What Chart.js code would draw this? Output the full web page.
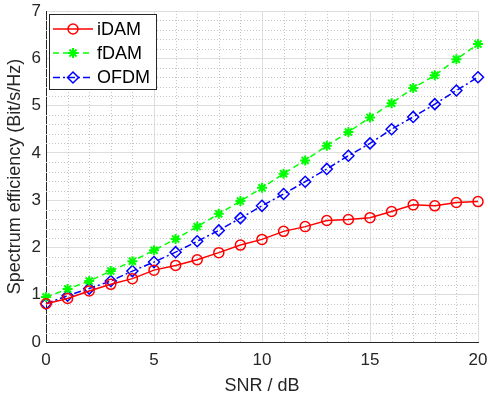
<!DOCTYPE html>
<html>
<head>
<meta charset="utf-8">
<script src="https://cdn.jsdelivr.net/npm/chart.js@4/dist/chart.umd.min.js"></script>
<style>
  html, body { margin: 0; padding: 0; background: #fff; }
  canvas { display: block; }
</style>
</head>
<body>
<canvas id="myChart" width="488" height="399"></canvas>
<script>
// ------- Dados -------
const snr = [0, 1, 2, 3, 4, 5, 6, 7, 8, 9, 10, 11, 12, 13, 14, 15, 16, 17, 18, 19, 20];
const iDAM = [0.81, 0.92, 1.08, 1.22, 1.34, 1.52, 1.62, 1.74, 1.89, 2.05, 2.17, 2.34, 2.44, 2.57, 2.59, 2.63, 2.76, 2.90, 2.88, 2.95, 2.97];
const fDAM = [0.95, 1.12, 1.29, 1.50, 1.71, 1.94, 2.18, 2.44, 2.71, 2.98, 3.26, 3.56, 3.84, 4.15, 4.44, 4.75, 5.05, 5.37, 5.64, 5.98, 6.30];
const OFDM = [0.81, 0.98, 1.13, 1.29, 1.50, 1.69, 1.90, 2.13, 2.36, 2.62, 2.88, 3.13, 3.39, 3.66, 3.94, 4.20, 4.50, 4.76, 5.03, 5.32, 5.60];
const xTicks = [0, 5, 10, 15, 20];
const yTicks = [0, 1, 2, 3, 4, 5, 6, 7];
const seriesNames = ['iDAM', 'fDAM', 'OFDM'];

const FONT = "'Liberation Sans', Arial, Helvetica, sans-serif";
const TXT = '#262626';

function pts(vals) {
  return snr.map((x, i) => ({ x, y: vals[i] }));
}

// ------- Grade secundária (pontilhada) -------
const minorGrid = {
  id: 'minorGrid',
  beforeDatasetsDraw(chart) {
    const { ctx, chartArea: a, scales: { x, y } } = chart;
    ctx.save();
    ctx.strokeStyle = '#c4c4c4';
    ctx.lineWidth = 1;
    ctx.setLineDash([1, 2]);
    for (let v = 0; v <= 20; v++) {
      if (v % 5 === 0) continue;
      const px = Math.round(x.getPixelForValue(v)) + 0.5;
      ctx.beginPath(); ctx.moveTo(px, a.top); ctx.lineTo(px, a.bottom); ctx.stroke();
    }
    for (let k = 0; k <= 35; k++) {
      if (k % 5 === 0) continue;
      const py = Math.round(y.getPixelForValue(k * 0.2)) + 0.5;
      ctx.beginPath(); ctx.moveTo(a.left, py); ctx.lineTo(a.right, py); ctx.stroke();
    }
    ctx.restore();
  }
};

// ------- Legenda dentro do gráfico -------
function drawMarker(ctx, style, cx, cy, r) {
  ctx.beginPath();
  if (style === 'circle') {
    ctx.arc(cx, cy, r, 0, Math.PI * 2);
  } else if (style === 'rectRot') {
    ctx.moveTo(cx, cy - r); ctx.lineTo(cx + r, cy); ctx.lineTo(cx, cy + r); ctx.lineTo(cx - r, cy); ctx.closePath();
  } else if (style === 'star') {
    const d = r * Math.SQRT1_2;
    ctx.moveTo(cx - r, cy); ctx.lineTo(cx + r, cy);
    ctx.moveTo(cx, cy - r); ctx.lineTo(cx, cy + r);
    ctx.moveTo(cx - d, cy - d); ctx.lineTo(cx + d, cy + d);
    ctx.moveTo(cx - d, cy + d); ctx.lineTo(cx + d, cy - d);
  }
  ctx.stroke();
}

const insideLegend = {
  id: 'insideLegend',
  afterDraw(chart) {
    const { ctx } = chart;
    const bx = 49.5, by = 14.5, bw = 107, bh = 75;
    ctx.save();
    ctx.fillStyle = '#fff';
    ctx.fillRect(bx, by, bw, bh);
    ctx.strokeStyle = TXT;
    ctx.lineWidth = 1;
    ctx.strokeRect(bx, by, bw, bh);
    const rows = [29, 53, 77.5];
    chart.data.datasets.forEach((ds, i) => {
      const yy = rows[i];
      ctx.strokeStyle = ds.borderColor;
      ctx.lineWidth = ds.borderWidth;
      ctx.setLineDash(ds.borderDash || []);
      ctx.beginPath(); ctx.moveTo(53, yy); ctx.lineTo(93, yy); ctx.stroke();
      ctx.setLineDash([]);
      ctx.lineWidth = ds.pointBorderWidth;
      drawMarker(ctx, ds.pointStyle, 73, yy, ds.pointRadius);
      ctx.fillStyle = '#000';
      ctx.font = '18px ' + FONT;
      ctx.textBaseline = 'middle';
      ctx.textAlign = 'left';
      ctx.fillText(ds.label, 97, yy + 1);
    });
    ctx.restore();
  }
};

const ctx = document.getElementById('myChart').getContext('2d');
const chart = new Chart(ctx, {
  type: 'line',
  data: {
    datasets: [{
      label: seriesNames[0],
      data: pts(iDAM),
      borderColor: '#ff0000',
      borderWidth: 1.5,
      pointStyle: 'circle',
      pointRadius: 5,
      pointBorderWidth: 1.5,
      pointBackgroundColor: 'transparent',
      pointBorderColor: '#ff0000'
    }, {
      label: seriesNames[1],
      data: pts(fDAM),
      borderColor: '#00ff00',
      borderWidth: 1.5,
      borderDash: [6, 4],
      pointStyle: 'star',
      pointRadius: 5,
      pointBorderWidth: 2,
      pointBackgroundColor: '#00ff00',
      pointBorderColor: '#00ff00'
    }, {
      label: seriesNames[2],
      data: pts(OFDM),
      borderColor: '#0000ff',
      borderWidth: 1.5,
      borderDash: [7, 3, 2, 3],
      pointStyle: 'rectRot',
      pointRadius: 5.5,
      pointBorderWidth: 1.5,
      pointBackgroundColor: 'transparent',
      pointBorderColor: '#0000ff'
    }]
  },
  options: {
    responsive: false,
    animation: false,
    clip: false,
    layout: { padding: { top: 11, right: 10, left: 0, bottom: 0 } },
    plugins: { legend: { display: false }, tooltip: { enabled: false } },
    elements: { line: { tension: 0 } },
    scales: {
      x: {
        type: 'linear',
        min: 0, max: 20,
        afterBuildTicks: s => { s.ticks = xTicks.map(v => ({ value: v })); },
        afterFit: s => { s.height = 57; s.paddingLeft = 0; s.paddingRight = 0; },
        grid: { color: '#dedede', drawTicks: false },
        border: { color: TXT, width: 1 },
        ticks: { color: TXT, padding: 8, font: { family: FONT, size: 17 }, maxRotation: 0 },
        title: { display: true, text: 'SNR / dB', color: TXT, font: { family: FONT, size: 18 }, padding: { top: 0, bottom: 2 } }
      },
      y: {
        min: 0, max: 7,
        afterBuildTicks: s => { s.ticks = yTicks.map(v => ({ value: v })); },
        afterFit: s => { s.width = 46; s.paddingTop = 0; s.paddingBottom = 0; },
        grid: { color: '#dedede', drawTicks: false },
        border: { color: TXT, width: 1 },
        ticks: { color: TXT, padding: 5, font: { family: FONT, size: 17 } },
        title: { display: true, text: 'Spectrum efficiency (Bit/s/Hz)', color: TXT, font: { family: FONT, size: 18 }, padding: { top: 4, bottom: 0 } }
      }
    }
  },
  plugins: [minorGrid, insideLegend]
});
</script>
</body>
</html>
